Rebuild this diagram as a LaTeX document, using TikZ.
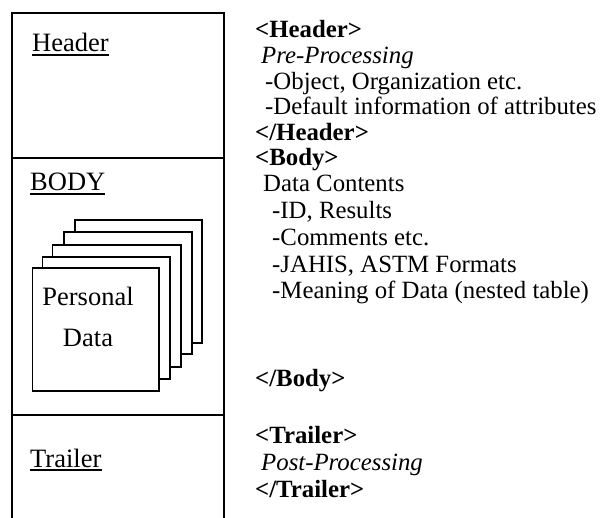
\documentclass[tikz,border=0pt]{standalone}
\usepackage{fontspec}
\setmainfont{Liberation Serif}
\tikzset{
  frame/.style={line width=1.3pt, line cap=rect},
  page/.style={draw, fill=white, line width=1.3pt},
  lbl/.style={inner sep=0pt, anchor=base west, font=\fontsize{26.5}{28}\selectfont},
  ptxt/.style={inner sep=0pt, anchor=base, font=\fontsize{26.5}{28}\selectfont},
  rtxt/.style={inner sep=0pt, anchor=base west, font=\fontsize{24.8}{26}\selectfont},
  tagtxt/.style={rtxt, font=\fontsize{24.8}{26}\selectfont\bfseries},
  ittxt/.style={rtxt, font=\fontsize{24.8}{26}\selectfont\itshape},
  uline/.style={line width=1.1pt}
}
\begin{document}
\begin{tikzpicture}[x=1pt, y=-1pt]
\useasboundingbox (0,0) rectangle (610,518);
% outer frame
\coordinate (tl) at (12,13);
\coordinate (tr) at (224,13);
\coordinate (bl) at (12,518);
\coordinate (br) at (224,518);
\draw[frame] (bl) -- (tl) -- (tr) -- (br);
\coordinate (d1l) at (12,158);
\coordinate (d1r) at (224,158);
\coordinate (d2l) at (12,415);
\coordinate (d2r) at (224,415);
\draw[frame] (d1l) -- (d1r);
\draw[frame] (d2l) -- (d2r);
% left labels
\node[lbl] (hdr) at (32,52) {Header};
\node[lbl] (bdy) at (30,191) {BODY};
\node[lbl] (trl) at (30,467) {Trailer};
\draw[uline] ([yshift=-3pt]hdr.base west) -- ([yshift=-3pt]hdr.base east);
\draw[uline] ([yshift=-3pt]bdy.base west) -- ([yshift=-3pt]bdy.base east);
\draw[uline] ([yshift=-3pt]trl.base west) -- ([yshift=-3pt]trl.base east);
% stacked pages
\draw[page] (75,220) rectangle (202,343);
\draw[page] (64,232) rectangle (192,354);
\draw[page] (52.7,245) rectangle (181,367);
\draw[page] (42.7,257) rectangle (170,379);
\draw[page] (32.7,268) rectangle (159,391);
\node[ptxt] (pers) at (88,306) {Personal};
\node[ptxt] (pdat) at (88,346) {Data};
% right text
\node[tagtxt] (t1) at (255,38) {<Header>};
\node[ittxt]  (t2) at (261,63.6) {Pre-Processing};
\node[rtxt]   (t3) at (265,89.2) {-Object, Organization etc.};
\node[rtxt]   (t4) at (265,114.8) {-Default information of attributes};
\node[tagtxt] (t5) at (255,140.4) {</Header>};
\node[tagtxt] (t6) at (255,166) {<Body>};
\node[rtxt]   (t7) at (263,191.6) {Data Contents};
\node[rtxt]   (t8) at (272,218.5) {-ID, Results};
\node[rtxt]   (t9) at (272,245.3) {-Comments etc.};
\node[rtxt]   (t10) at (272,272.1) {-JAHIS, ASTM Formats};
\node[rtxt]   (t11) at (272,299) {-Meaning of Data (nested table)};
\node[tagtxt] (t12) at (255,386) {</Body>};
\node[tagtxt] (t13) at (255,443) {<Trailer>};
\node[ittxt]  (t14) at (261,470) {Post-Processing};
\node[tagtxt] (t15) at (255,497) {</Trailer>};
\end{tikzpicture}
\end{document}
